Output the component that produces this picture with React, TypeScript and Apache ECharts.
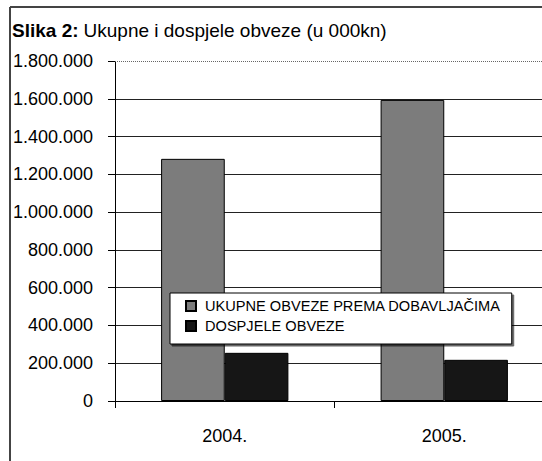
import React, { useEffect, useRef } from "react";
import * as echarts from "echarts";

const categories = ["2004.", "2005."];
const seriesNames = ["UKUPNE OBVEZE PREMA DOBAVLJAČIMA", "DOSPJELE OBVEZE"];
const ukupne = [1282000, 1594000];
const dospjele = [255000, 218000];
const yMax = 1800000;
const yInterval = 200000;

const FONT = "'Liberation Sans', Arial, sans-serif";

function fmt(v: number): string {
  return String(Math.round(v)).replace(/\B(?=(\d{3})+(?!\d))/g, ".");
}

export default function App() {
  const ref = useRef<HTMLDivElement>(null);
  useEffect(() => {
    if (!ref.current) return;
    const chart = echarts.init(ref.current, undefined, { renderer: "svg" });
    chart.setOption({
      animation: false,
      backgroundColor: "#fff",
      title: {
        text: "{b|Slika 2:} {n|Ukupne i dospjele obveze (u 000kn)}",
        left: 12,
        top: 21,
        padding: 0,
        textStyle: {
          fontWeight: "normal",
          rich: {
            b: { fontFamily: FONT, fontSize: 19, fontWeight: "bold", color: "#000" },
            n: { fontFamily: FONT, fontSize: 19, fontWeight: "normal", color: "#000" },
          },
        },
      },
      graphic: [
        { type: "line", shape: { x1: 10, y1: 7, x2: 560, y2: 7 }, style: { stroke: "#444", lineWidth: 2 } },
        { type: "line", shape: { x1: 10, y1: 7, x2: 10, y2: 461 }, style: { stroke: "#444", lineWidth: 2 } },
      ],
      legend: {
        orient: "vertical",
        left: 170,
        top: 293,
        backgroundColor: "#fff",
        borderColor: "#000",
        borderWidth: 1,
        padding: [5, 11, 10, 15],
        itemWidth: 10,
        itemHeight: 10,
        itemGap: 4,
        icon: "rect",
        data: seriesNames,
        textStyle: { fontFamily: FONT, fontSize: 14.6, color: "#000", lineHeight: 16, padding: [0, 0, 0, 4] },
        shadowColor: "rgba(0,0,0,0.6)",
        shadowOffsetX: 2,
        shadowOffsetY: 2,
        shadowBlur: 0,
        z: 10,
      },
      grid: { left: 115, top: 61, height: 340, right: 6 },
      xAxis: {
        type: "category",
        data: categories,
        axisLine: { lineStyle: { color: "#000", width: 1 } },
        axisTick: { show: true, length: 7, lineStyle: { color: "#000" } },
        axisLabel: { fontFamily: FONT, fontSize: 18, color: "#000", margin: 26 },
      },
      yAxis: {
        type: "value",
        min: 0,
        max: yMax,
        interval: yInterval,
        axisLine: { show: true, lineStyle: { color: "#000", width: 1 } },
        axisTick: { show: true, length: 7, lineStyle: { color: "#000" } },
        axisLabel: { fontFamily: FONT, fontSize: 18, color: "#000", margin: 22, formatter: (v: number) => fmt(v) },
        splitLine: { show: true, lineStyle: { color: "#222", width: 1 } },
      },
      series: [
        {
          name: seriesNames[0],
          type: "bar",
          data: ukupne,
          barGap: "0%",
          barCategoryGap: "42%",
          itemStyle: { color: "#7c7c7c", borderColor: "#000", borderWidth: 1 },
          markLine: {
            silent: true,
            symbol: "none",
            label: { show: false },
            data: [
              { yAxis: yMax, lineStyle: { color: "#fff", width: 2, type: "solid" } },
              { yAxis: yMax, lineStyle: { color: "#666", width: 1, type: "dotted" } },
            ],
          },
        },
        {
          name: seriesNames[1],
          type: "bar",
          data: dospjele,
          itemStyle: { color: "#161616", borderColor: "#000", borderWidth: 1 },
        },
      ],
    });
    return () => chart.dispose();
  }, []);
  return (
    <div style={{ position: "absolute", left: 0, top: 0, width: 542, height: 461, overflow: "hidden" }}>
      <div ref={ref} style={{ position: "absolute", left: 0, top: 0, width: 560, height: 461 }} />
    </div>
  );
}
